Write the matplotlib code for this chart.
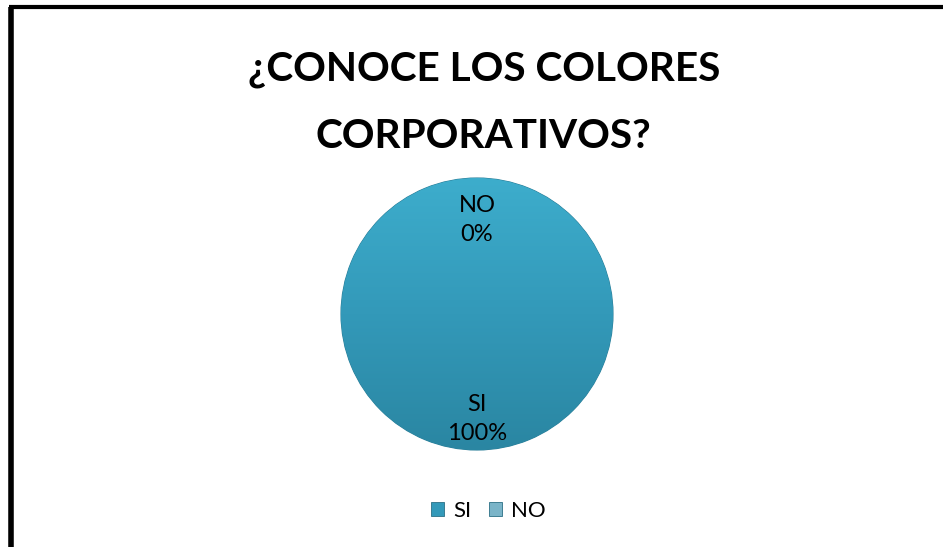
import numpy as np
import matplotlib.pyplot as plt
from matplotlib.lines import Line2D
from matplotlib.colors import LinearSegmentedColormap

# survey answers
categorias = ['SI', 'NO']
valores = [100, 0]
colores = ['#3399b9', '#7ab4c8']
titulo = ['¿CONOCE LOS COLORES', 'CORPORATIVOS?']

plt.rcParams['font.family'] = ['Lato', 'DejaVu Sans']

fig = plt.figure(figsize=(9.43, 5.47), dpi=100)
fig.patch.set_facecolor('white')

# frame lines along the top and left edge
fig.add_artist(Line2D([0.0095, 1.0], [0.9865, 0.9865], color='black', lw=3.0,
                      transform=fig.transFigure, solid_capstyle='butt'))
fig.add_artist(Line2D([0.0115, 0.0115], [0.0, 0.9865], color='black', lw=4.0,
                      transform=fig.transFigure, solid_capstyle='butt'))

# two-line title, one text per line
for linea, yb in zip(titulo, [0.8537, 0.7294]):
    fig.text(0.513, yb, linea, ha='center', va='baseline', fontsize=29.2,
             fontweight='bold')

# pie area
r_px = 136
cx, cy = 477, 547 - 314
ax = fig.add_axes([(cx - r_px) / 943, (cy - r_px) / 547, 2 * r_px / 943, 2 * r_px / 547])

total = sum(valores)
etiquetas = [f'{c}\n{v / total * 100:.0f}%' for c, v in zip(categorias, valores)]
wedges, texts = ax.pie(valores, colors=colores, startangle=90, counterclock=False,
                       labels=etiquetas, labeldistance=0.72,
                       textprops={'fontsize': 17, 'color': 'black'})
ax.set_xlim(-1, 1)
ax.set_ylim(-1, 1)

# vertical shading over the filled wedge
grad = np.linspace(1, 0, 256).reshape(-1, 1)
cmap = LinearSegmentedColormap.from_list('sh', ['#2a86a2', '#3399b9', '#3dadcc'])
for w, v in zip(wedges, valores):
    if v > 0:
        w.set_edgecolor('#2b7f99')
        w.set_linewidth(0.8)
        im = ax.imshow(grad, extent=[-1, 1, -1, 1], cmap=cmap, aspect='auto',
                       zorder=w.get_zorder() + 0.1)
        im.set_clip_path(w)

for t, d in zip(texts, [0.77, 0.69]):
    t.set_ha('center')
    t.set_va('center')
    t.set_linespacing(1.45)
    x, y = t.get_position()
    n = np.hypot(x, y)
    t.set_position((x / n * d, y / n * d))
    t.set_zorder(5)

leg = fig.legend(wedges, categorias, loc='center', bbox_to_anchor=(0.518, 0.066),
                 ncol=2, frameon=False, fontsize=16, handlelength=0.6,
                 handleheight=0.6, handletextpad=0.4, columnspacing=0.8)
for h in leg.legend_handles:
    h.set_edgecolor('#2b6f85')
    h.set_linewidth(0.6)

plt.savefig('out.png', dpi=100)
